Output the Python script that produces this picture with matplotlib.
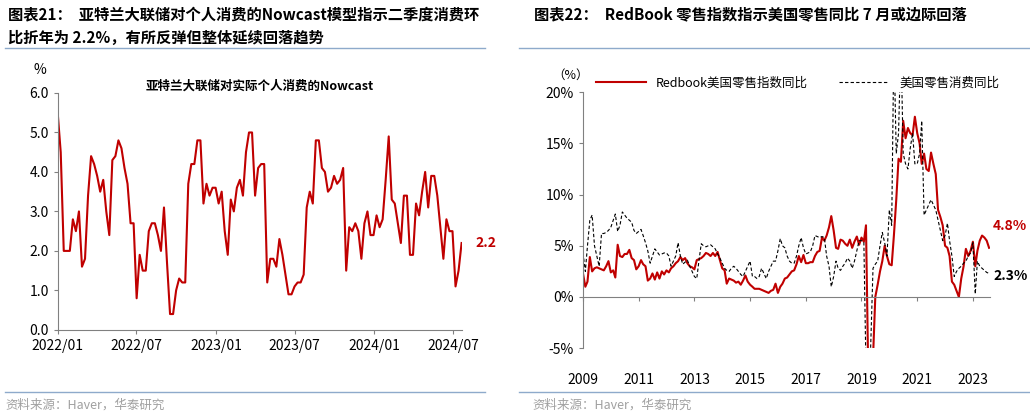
import numpy as np
import pandas as pd
import matplotlib.pyplot as plt
import matplotlib.dates as mdates
from matplotlib.lines import Line2D

plt.rcParams['font.family'] = ['Noto Sans CJK SC']

# ---- left panel: Atlanta Fed nowcast, weekly from 2022-01
nowcast = [5.5, 4.5, 2.0, 2.0, 2.0, 2.8, 2.5, 3.0, 1.6, 1.8,
           3.4, 4.4, 4.2, 3.9, 3.5, 3.8, 3.0, 2.4, 4.3, 4.4,
           4.8, 4.6, 4.1, 3.7, 2.7, 2.7, 0.8, 1.9, 1.5, 1.5,
           2.5, 2.7, 2.7, 2.4, 2.0, 3.1, 1.7, 0.4, 0.4, 1.0,
           1.3, 1.2, 1.2, 3.7, 4.2, 4.2, 4.8, 4.8, 3.2, 3.7,
           3.4, 3.6, 3.6, 3.2, 3.5, 2.5, 1.9, 3.3, 3.0, 3.6,
           3.8, 3.4, 4.5, 5.0, 5.0, 3.4, 4.1, 4.2, 4.2, 1.2,
           1.8, 1.8, 1.6, 2.3, 1.9, 1.4, 0.9, 0.9, 1.1, 1.2,
           1.2, 1.4, 3.1, 3.5, 3.2, 4.8, 4.8, 4.1, 4.0, 3.5,
           3.6, 3.9, 3.7, 3.8, 4.1, 1.5, 2.6, 2.5, 2.7, 2.5,
           1.8, 2.7, 3.0, 2.4, 2.4, 2.9, 2.6, 2.8, 3.8, 4.9,
           3.3, 3.2, 2.7, 2.2, 3.4, 3.4, 1.9, 1.9, 3.2, 2.9,
           3.5, 4.0, 3.1, 3.9, 3.9, 3.4, 2.6, 1.8, 2.8, 2.5,
           2.5, 1.1, 1.5, 2.2]
nowcast_dates = pd.date_range('2022-01-01', periods=len(nowcast), freq='7D')
left_ticks = ['2022-01-01', '2022-07-01', '2023-01-01', '2023-07-01', '2024-01-01', '2024-07-01']

# ---- right panel: monthly from 2009-01
redbook = [2.3, 1.0, 1.5, 3.9, 2.5, 2.8, 2.9, 2.8, 2.7, 2.6, 3.0, 3.5,
           2.4, 2.6, 1.9, 5.1, 4.0, 3.9, 4.2, 4.2, 4.6, 3.8, 3.6, 2.7,
           3.0, 3.6, 3.2, 3.0, 1.6, 1.8, 2.3, 1.7, 2.4, 1.8, 2.5, 2.2,
           2.6, 2.4, 2.8, 3.0, 3.3, 3.5, 3.9, 3.6, 3.8, 3.3, 3.0, 2.9,
           2.7, 3.6, 3.7, 3.8, 4.0, 4.3, 4.2, 4.0, 4.3, 4.0, 4.4, 3.6,
           2.8, 2.6, 1.3, 1.8, 1.7, 1.6, 1.4, 1.5, 1.2, 1.6, 2.1, 1.5,
           1.2, 1.0, 0.8, 0.8, 0.8, 0.7, 0.6, 0.5, 0.4, 0.6, 0.7, 1.3,
           0.4, 1.0, 1.3, 1.8, 1.9, 2.2, 2.5, 2.6, 3.2, 4.0, 3.4, 4.1,
           3.3, 3.3, 3.4, 3.4, 4.0, 4.4, 4.5, 5.8, 5.5, 6.0, 6.8, 7.9,
           6.5, 4.8, 4.7, 5.6, 5.5, 5.2, 5.0, 5.6, 4.8, 5.4, 5.9, 5.1,
           5.8, 5.4, 7.0, -8.0, -8.0, -6.0, 0.0, 1.2, 2.5, 3.5, 5.0, 4.0,
           3.2, 3.1, 6.0, 9.5, 13.5, 13.2, 17.2, 15.5, 16.5, 16.0, 15.8, 17.6,
           16.0, 15.0, 13.0, 14.0, 12.5, 12.3, 14.1, 13.0, 12.0, 8.5, 7.8, 7.0,
           5.0, 4.8, 4.0, 1.5, 1.2, 0.6, 0.0, 1.8, 3.0, 4.7, 4.0, 4.5,
           5.4, 3.0, 4.5, 5.5, 6.0, 5.8, 5.5, 4.8]
retail = [4.3, 2.5, 5.0, 7.5, 8.0, 5.0, 4.0, 3.0, 6.2, 6.2, 6.3, 6.5,
          6.8, 7.5, 8.1, 6.4, 7.0, 8.3, 8.0, 7.7, 7.5, 7.3, 6.5, 6.2,
          6.4, 6.6, 6.0, 5.3, 4.5, 3.3, 4.0, 4.7, 4.4, 4.1, 4.2, 4.3,
          4.3, 4.0, 3.0, 3.5, 4.0, 5.3, 4.0, 3.2, 3.4, 3.6, 3.0, 2.5,
          2.0, 1.8, 3.5, 5.2, 5.0, 4.9, 5.0, 5.1, 4.9, 4.7, 4.2, 3.8,
          3.3, 2.8, 2.6, 2.5, 2.8, 3.0, 2.8, 2.5, 2.2, 2.0, 2.5, 3.0,
          3.5, 2.0, 2.0, 1.8, 2.0, 2.8, 2.3, 1.8, 2.5, 3.0, 3.5, 3.5,
          4.5, 5.7, 5.0, 4.8, 4.0, 3.5, 3.3, 3.3, 4.0, 5.0, 5.8, 4.8,
          4.2, 4.3, 4.4, 5.0, 6.0, 5.9, 5.8, 5.9, 5.8, 4.0, 3.0, 1.0,
          2.0, 3.5, 2.8, 2.6, 3.0, 3.3, 3.8, 3.5, 2.8, 3.5, 4.5, 5.5,
          5.5, 5.4, -7.0, -7.0, -5.0, 2.8, 3.2, 3.5, 5.0, 6.3, 5.3, 4.0,
          8.5, 7.0, 25.0, 14.0, 16.0, 25.0, 14.0, 13.0, 12.5, 14.5, 16.0, 13.0,
          13.0, 14.0, 17.2, 8.0, 8.5, 9.0, 9.5, 9.0, 8.5, 7.5, 6.5, 5.5,
          6.0, 7.2, 5.5, 4.0, 2.0, 2.5, 2.8, 3.0, 3.3, 3.5, 4.0, 4.3,
          5.3, 0.3, 3.5, 3.0, 2.8, 2.6, 2.4, 2.3]
months = pd.date_range('2009-01-01', periods=len(redbook), freq='MS')
right_years = [2009, 2011, 2013, 2015, 2017, 2019, 2021, 2023]

RED = '#c00000'
RULE = '#8eaacb'

fig = plt.figure(figsize=(10.3, 4.17), dpi=100)

# titles, rules and source lines
fig.text(0.008, 0.965, '图表21：  亚特兰大联储对个人消费的Nowcast模型指示二季度消费环',
         fontsize=11, fontweight='bold', va='center')
fig.text(0.008, 0.908, '比折年为 2.2%，有所反弹但整体延续回落趋势',
         fontsize=11, fontweight='bold', va='center')
fig.text(0.518, 0.965, '图表22：  RedBook 零售指数指示美国零售同比 7 月或边际回落',
         fontsize=11, fontweight='bold', va='center')
for x0, x1 in [(0.005, 0.471), (0.504, 1.0)]:
    fig.add_artist(Line2D([x0, x1], [0.885, 0.885], color=RULE, lw=1))
    fig.add_artist(Line2D([x0, x1], [0.06, 0.06], color=RULE, lw=1))
fig.text(0.517, 0.028, '资料来源：Haver，华泰研究', fontsize=9, color='#a0a0a0', va='center')
fig.text(0.005, 0.028, '资料来源：Haver，华泰研究', fontsize=9, color='#a0a0a0', va='center')

# left chart
ax1 = fig.add_axes([0.056, 0.209, 0.393, 0.568])
ax1.plot(nowcast_dates, nowcast, color=RED, lw=1.5)
ax1.set_ylim(0, 6)
ax1.set_yticks(np.arange(0, 6.1, 1.0))
ax1.set_yticklabels(['%.1f' % v for v in np.arange(0, 6.1, 1.0)])
ax1.set_xlim(pd.Timestamp('2022-01-01'), nowcast_dates[-1] + pd.Timedelta(days=2))
ax1.set_xticks(pd.to_datetime(left_ticks))
ax1.xaxis.set_major_formatter(mdates.DateFormatter('%Y/%m'))
for s in ['top', 'right']:
    ax1.spines[s].set_visible(False)
for s in ['left', 'bottom']:
    ax1.spines[s].set_color('#808080')
ax1.tick_params(labelsize=10, length=3, color='#808080')
ax1.text(-0.06, 1.08, '%', transform=ax1.transAxes, fontsize=10)
ax1.set_title('亚特兰大联储对实际个人消费的Nowcast', fontsize=9, fontweight='bold', pad=2)
ax1.annotate('2.2', (nowcast_dates[-1], nowcast[-1]), xytext=(10, 0), textcoords='offset points',
             color=RED, fontsize=10, fontweight='bold', va='center')

# right chart
ax2 = fig.add_axes([0.566, 0.165, 0.395, 0.614])
ax2.plot(months, redbook, color=RED, lw=1.5, label='Redbook美国零售指数同比')
ax2.plot(months, retail, color='black', lw=0.8, ls=(0, (3, 2)), label='美国零售消费同比')
ax2.set_ylim(-5, 20)
ax2.set_yticks(range(-5, 21, 5))
ax2.set_yticklabels(['%d%%' % v for v in range(-5, 21, 5)])
ax2.set_xlim(pd.Timestamp('2009-01-01'), months[-1] + pd.Timedelta(days=10))
ax2.set_xticks([pd.Timestamp('%d-01-01' % y) for y in right_years])
ax2.set_xticklabels([str(y) for y in right_years])
ax2.spines['bottom'].set_position(('data', 0))
for s in ['top', 'right']:
    ax2.spines[s].set_visible(False)
for s in ['left', 'bottom']:
    ax2.spines[s].set_color('#808080')
ax2.tick_params(axis='y', labelsize=10, length=3, color='#808080')
ax2.tick_params(axis='x', labelsize=10, length=3, color='#808080', pad=52)
ax2.text(-0.075, 1.065, '（%）', transform=ax2.transAxes, fontsize=9, va='center')
ax2.legend(loc='lower left', bbox_to_anchor=(0.02, 0.99), ncol=2, frameon=False,
           fontsize=9, handlelength=4, columnspacing=2.5, borderaxespad=0)
ax2.annotate('4.8%', (months[-1], redbook[-1]), xytext=(3, 16), textcoords='offset points',
             color=RED, fontsize=10, fontweight='bold', va='center')
ax2.annotate('2.3%', (months[-1], retail[-1]), xytext=(3, -2), textcoords='offset points',
             color='black', fontsize=10, fontweight='bold', va='center')

fig.savefig('out.png', dpi=100)
